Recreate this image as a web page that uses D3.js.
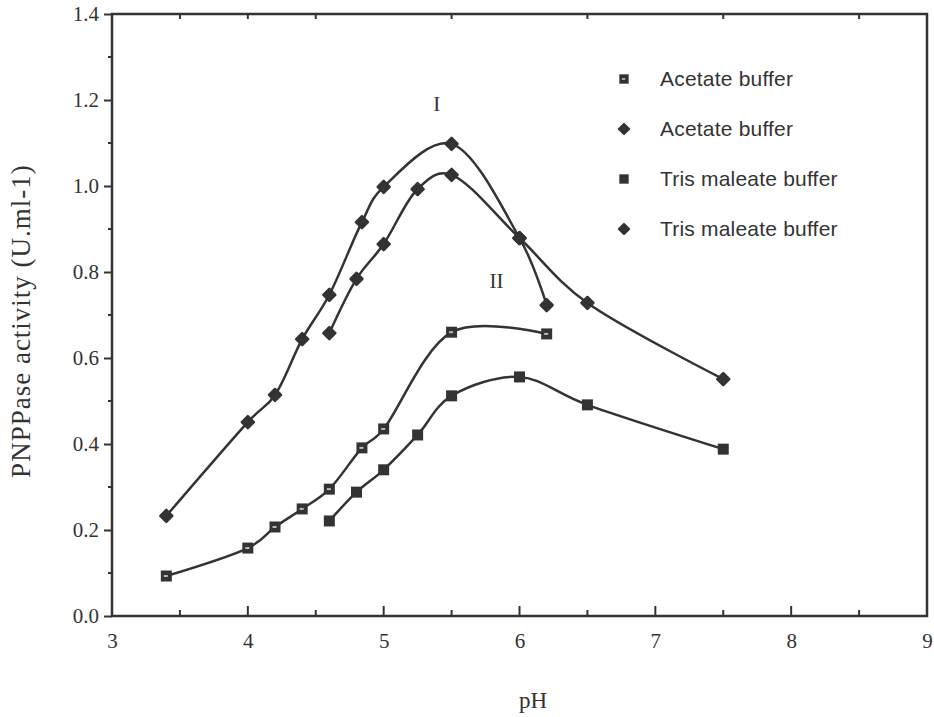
<!DOCTYPE html>
<html>
<head>
<meta charset="utf-8">
<script src="https://cdn.jsdelivr.net/npm/d3@7"></script>
<style>
  body { margin: 0; background: #fff; }
  .tick text { font-family: "Liberation Serif", "DejaVu Serif", serif; }
</style>
</head>
<body>
<div id="chart"></div>
<script>
// Data (pH vs PNPPase activity)

const phAcetateI = [3.4, 4.0, 4.2, 4.4, 4.6, 4.84, 5.0, 5.5, 6.0, 6.2];
const acetateI = [0.233, 0.451, 0.514, 0.644, 0.747, 0.916, 0.998, 1.098, 0.879, 0.723];

const phTrisI = [4.6, 4.8, 5.0, 5.25, 5.5, 6.0, 6.5, 7.5];
const trisI = [0.658, 0.784, 0.865, 0.993, 1.026, 0.879, 0.728, 0.551];

const phAcetateII = [3.4, 4.0, 4.2, 4.4, 4.6, 4.84, 5.0, 5.5, 6.2];
const acetateII = [0.093, 0.158, 0.207, 0.249, 0.295, 0.391, 0.435, 0.66, 0.656];

const phTrisII = [4.6, 4.8, 5.0, 5.25, 5.5, 6.0, 6.5, 7.5];
const trisII = [0.221, 0.288, 0.34, 0.421, 0.512, 0.556, 0.491, 0.388];

const legendNames = ['Acetate buffer', 'Acetate buffer', 'Tris maleate buffer', 'Tris maleate buffer'];
const xTicks = [3, 4, 5, 6, 7, 8, 9];
const yTicks = [0, 0.2, 0.4, 0.6, 0.8, 1.0, 1.2, 1.4];

const ink = '#333';
const width = 934;
const height = 717;
const margin = { top: 14, right: 7, bottom: 101, left: 112 };
const chartWidth = width - margin.left - margin.right;
const chartHeight = height - margin.top - margin.bottom;

const svg = d3.select('#chart').append('svg')
  .attr('width', width)
  .attr('height', height);

const g = svg.append('g')
  .attr('transform', `translate(${margin.left}, ${margin.top})`);

const xScale = d3.scaleLinear().domain([3, 9]).range([0, chartWidth]);
const yScale = d3.scaleLinear().domain([0, 1.4]).range([chartHeight, 0]);

// frame
g.append('rect')
  .attr('width', chartWidth)
  .attr('height', chartHeight)
  .attr('fill', 'none')
  .attr('stroke', ink)
  .attr('stroke-width', 2.5);

// bottom axis, ticks pointing in
const halfX = d3.range(3.5, 9, 1);
const xAxis = g.append('g').attr('transform', `translate(0, ${chartHeight})`);
xAxis.call(d3.axisBottom(xScale).tickValues(xTicks).tickSize(0).tickPadding(17).tickFormat(d3.format('d')));
xAxis.select('.domain').remove();
xAxis.selectAll('.tick text').attr('font-size', 21).attr('fill', ink);
xAxis.selectAll('line.maj').data(xTicks).enter().append('line')
  .attr('x1', d => xScale(d)).attr('x2', d => xScale(d))
  .attr('y1', 0).attr('y2', -10).attr('stroke', ink).attr('stroke-width', 2);
xAxis.selectAll('line.min').data(halfX).enter().append('line')
  .attr('x1', d => xScale(d)).attr('x2', d => xScale(d))
  .attr('y1', 0).attr('y2', -6).attr('stroke', ink).attr('stroke-width', 2);

// top axis ticks pointing down
g.append('g').selectAll('line').data(halfX.concat([4])).enter().append('line')
  .attr('x1', d => xScale(d)).attr('x2', d => xScale(d))
  .attr('y1', 0).attr('y2', 5).attr('stroke', ink).attr('stroke-width', 2);

// left axis, ticks pointing out
const yAxis = g.append('g');
yAxis.call(d3.axisLeft(yScale).tickValues(yTicks).tickSizeInner(8).tickSizeOuter(0).tickPadding(5).tickFormat(d3.format('.1f')));
yAxis.select('.domain').remove();
yAxis.selectAll('.tick line').attr('stroke', ink).attr('stroke-width', 2);
yAxis.selectAll('.tick text').attr('font-size', 21).attr('fill', ink);
yAxis.selectAll('line.min').data(d3.range(0.1, 1.4, 0.2)).enter().append('line')
  .attr('x1', 0).attr('x2', -4)
  .attr('y1', d => yScale(d)).attr('y2', d => yScale(d))
  .attr('stroke', ink).attr('stroke-width', 2);

// axis titles
svg.append('text')
  .attr('x', margin.left + xScale(6.1))
  .attr('y', 708)
  .attr('text-anchor', 'middle')
  .attr('font-family', '"Liberation Serif", serif')
  .attr('font-size', 23)
  .attr('fill', ink)
  .text('pH');

svg.append('text')
  .attr('transform', `translate(30, ${margin.top + yScale(0.686)}) rotate(-90)`)
  .attr('text-anchor', 'middle')
  .attr('font-family', '"Liberation Serif", serif')
  .attr('font-size', 27)
  .attr('letter-spacing', 1)
  .attr('fill', ink)
  .text('PNPPase activity (U.ml-1)');

// series
const series = [
  { ph: phAcetateI, v: acetateI, marker: 'diamond' },
  { ph: phTrisI, v: trisI, marker: 'diamond' },
  { ph: phAcetateII, v: acetateII, marker: 'open' },
  { ph: phTrisII, v: trisII, marker: 'square' },
];

const line = d3.line()
  .x(d => xScale(d[0]))
  .y(d => yScale(d[1]))
  .curve(d3.curveCatmullRom.alpha(0.2));

function drawMarker(sel, type) {
  if (type === 'diamond') {
    sel.append('path')
      .attr('d', 'M0,-6L6,0L0,6L-6,0Z')
      .attr('fill', ink)
      .attr('stroke', ink)
      .attr('stroke-width', 2.5)
      .attr('stroke-linejoin', 'round');
  } else {
    sel.append('rect')
      .attr('x', -5.5).attr('y', -5.5)
      .attr('width', 11).attr('height', 11)
      .attr('fill', ink);
    if (type === 'open') {
      sel.append('rect')
        .attr('x', -2.5).attr('y', -1)
        .attr('width', 4).attr('height', 2)
        .attr('fill', '#bbb');
    }
  }
}

series.forEach(s => {
  const pts = s.ph.map((p, i) => [p, s.v[i]]);
  g.append('path')
    .attr('d', line(pts))
    .attr('fill', 'none')
    .attr('stroke', ink)
    .attr('stroke-width', 2.5);
  g.append('g').selectAll('g').data(pts).enter().append('g')
    .attr('transform', d => `translate(${xScale(d[0])}, ${yScale(d[1])})`)
    .each(function () { drawMarker(d3.select(this), s.marker); });
});

// curve labels
[['I', 5.39, 1.174], ['II', 5.83, 0.763]].forEach(([t, x, y]) => {
  g.append('text')
    .attr('x', xScale(x)).attr('y', yScale(y))
    .attr('text-anchor', 'middle')
    .attr('font-family', '"Liberation Serif", serif')
    .attr('font-size', 21)
    .attr('fill', ink)
    .text(t);
});

// legend
const legend = svg.append('g');
const legendMarkers = ['open', 'diamond', 'square', 'diamond'];
legendNames.forEach((name, i) => {
  const row = legend.append('g').attr('transform', `translate(624, ${79 + i * 50})`);
  drawMarker(row.append('g').attr('transform', 'scale(0.85)'), legendMarkers[i]);
  row.append('text')
    .attr('x', 36).attr('y', 7)
    .attr('font-family', '"Liberation Sans", Arial, sans-serif')
    .attr('font-size', 21)
    .attr('letter-spacing', 0.2)
    .attr('fill', ink)
    .text(name);
});
</script>
</body>
</html>
